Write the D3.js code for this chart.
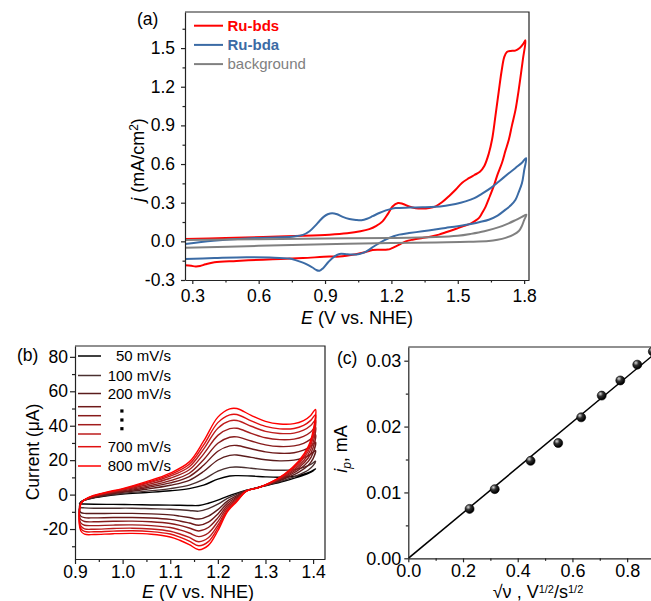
<!DOCTYPE html>
<html>
<head>
<meta charset="utf-8">
<script src="https://cdn.jsdelivr.net/npm/d3@7"></script>
<style>
  body { margin: 0; background: #fff; }
  text { font-family: "Liberation Sans", Arial, sans-serif; }
</style>
</head>
<body>
<svg id="fig" width="651" height="601"></svg>
<script>
// ---------- (a) CV of the two complexes and the blank, [E (V), j (mA/cm2)] ----------
const bdsForward = [[0.267,0.019],[0.45,0.026],[0.62,0.034],[0.8,0.043],[0.92,0.052],[1.0,0.063],[1.06,0.078],[1.1,0.095],[1.13,0.118],[1.16,0.155],[1.185,0.215],[1.205,0.27],[1.23,0.297],[1.25,0.292],[1.28,0.27],[1.31,0.257],[1.34,0.254],[1.37,0.258],[1.40,0.272],[1.43,0.305],[1.46,0.35],[1.49,0.40],[1.52,0.455],[1.55,0.49],[1.575,0.515],[1.6,0.54],[1.62,0.585],[1.64,0.68],[1.655,0.79],[1.67,0.97],[1.685,1.16],[1.698,1.32],[1.71,1.43],[1.722,1.47],[1.74,1.478],[1.76,1.48],[1.78,1.5],[1.795,1.53],[1.806,1.56]];
const bdsReverse = [[1.806,1.56],[1.795,1.42],[1.788,1.33],[1.775,1.17],[1.761,1.02],[1.745,0.9],[1.731,0.79],[1.715,0.7],[1.70,0.61],[1.68,0.52],[1.663,0.43],[1.645,0.35],[1.626,0.27],[1.61,0.22],[1.595,0.18],[1.575,0.155],[1.558,0.137],[1.52,0.115],[1.49,0.096],[1.45,0.072],[1.415,0.052],[1.38,0.038],[1.34,0.026],[1.3,0.014],[1.265,0.0],[1.24,-0.022],[1.22,-0.039],[1.2,-0.055],[1.183,-0.064],[1.15,-0.066],[1.115,-0.068],[1.08,-0.085],[1.04,-0.10],[0.965,-0.118],[0.92,-0.118],[0.8,-0.13],[0.7,-0.137],[0.62,-0.142],[0.5,-0.152],[0.4,-0.162],[0.36,-0.178],[0.335,-0.192],[0.315,-0.195],[0.295,-0.19],[0.267,-0.185]];
const bdaForward = [[0.267,-0.02],[0.394,0.005],[0.545,0.023],[0.695,0.031],[0.76,0.038],[0.80,0.05],[0.83,0.078],[0.855,0.12],[0.875,0.158],[0.895,0.192],[0.912,0.21],[0.932,0.219],[0.955,0.21],[0.98,0.19],[1.01,0.174],[1.04,0.166],[1.065,0.164],[1.09,0.175],[1.115,0.195],[1.145,0.22],[1.175,0.24],[1.2,0.252],[1.22,0.258],[1.28,0.262],[1.34,0.264],[1.40,0.268],[1.445,0.277],[1.49,0.29],[1.535,0.31],[1.575,0.335],[1.61,0.37],[1.65,0.415],[1.686,0.465],[1.725,0.52],[1.761,0.57],[1.79,0.61],[1.809,0.646]];
const bdaReverse = [[1.809,0.646],[1.8,0.55],[1.79,0.45],[1.775,0.38],[1.761,0.323],[1.74,0.28],[1.716,0.246],[1.68,0.2],[1.64,0.168],[1.6,0.15],[1.565,0.137],[1.5,0.118],[1.445,0.104],[1.39,0.09],[1.34,0.078],[1.28,0.064],[1.235,0.052],[1.21,0.04],[1.19,0.026],[1.165,0.006],[1.145,-0.013],[1.12,-0.04],[1.10,-0.064],[1.075,-0.088],[1.055,-0.098],[1.03,-0.103],[1.0,-0.1],[0.965,-0.098],[0.94,-0.12],[0.915,-0.16],[0.89,-0.21],[0.875,-0.228],[0.86,-0.222],[0.845,-0.205],[0.82,-0.18],[0.8,-0.165],[0.77,-0.148],[0.74,-0.134],[0.65,-0.126],[0.545,-0.124],[0.4,-0.13],[0.267,-0.137]];
const bgForward = [[0.267,0.01],[0.6,0.017],[0.9,0.022],[1.2,0.026],[1.4,0.033],[1.5,0.043],[1.56,0.058],[1.62,0.078],[1.686,0.11],[1.73,0.14],[1.761,0.165],[1.79,0.19],[1.81,0.207]];
const bgReverse = [[1.81,0.207],[1.8,0.165],[1.79,0.12],[1.776,0.08],[1.75,0.05],[1.716,0.027],[1.68,0.012],[1.64,0.002],[1.55,-0.004],[1.4,-0.008],[1.2,-0.013],[0.9,-0.022],[0.6,-0.035],[0.267,-0.05]];
const seriesNamesA = ["Ru-bds", "Ru-bda", "background"];
const seriesColorsA = ["#ff0000", "#3b6ba5", "#808080"];
const xTicksA = [0.3, 0.6, 0.9, 1.2, 1.5, 1.8];
const xMinorA = [0.45, 0.75, 1.05, 1.35, 1.65];
const yTicksA = [-0.3, 0.0, 0.3, 0.6, 0.9, 1.2, 1.5];
const yMinorA = [-0.15, 0.15, 0.45, 0.75, 1.05, 1.35, 1.65];

// ---------- (b) CVs at increasing scan rates, current in µA ----------
const scanRates = [50, 100, 200, 300, 400, 500, 600, 700, 800];
const cvColors = ["#000000", "#4a3030", "#5a1c1c", "#6e1a1a", "#871b1b", "#a11c1c", "#bd1d1d", "#e01010", "#ff0000"];
const cvForwardE = [0.909, 0.913, 0.93, 0.96, 1.0, 1.05, 1.1, 1.14, 1.17, 1.2, 1.225, 1.24, 1.27, 1.3, 1.33, 1.36, 1.38, 1.395, 1.405];
const cvReverseE = [1.405, 1.4, 1.39, 1.37, 1.34, 1.31, 1.285, 1.26, 1.24, 1.22, 1.2, 1.18, 1.16, 1.14, 1.12, 1.1, 1.06, 1.02, 0.98, 0.94, 0.92, 0.912, 0.909];
const cvForward = [
  [-5.5,-4,-2.5,-1,0.3,1.2,2.2,3.5,5.5,9,10.8,11,10.8,10.3,10.1,10.6,11.8,13.3,15],
  [-7,-4.1,-2.4,-0.7,0.7,2.0,3.5,5.5,8.8,13.6,15.8,16,15.3,14.4,14.1,14.5,15.8,17.5,19.4],
  [-9,-4.3,-2.2,-0.4,1.3,3.1,5.4,8.3,13.4,20.1,22.8,23,21.6,20.2,19.6,20,21.4,23.4,25.6],
  [-10.5,-4.4,-2.1,-0.1,1.7,4.0,6.8,10.5,17,25.2,28.3,28.5,26.6,24.8,24,24.3,25.8,28,30.5],
  [-12,-4.6,-1.9,0.2,2.1,4.8,8.1,12.4,20.2,29.8,33.3,33.5,31.1,28.9,27.9,28.3,29.8,32.2,34.9],
  [-13.5,-4.7,-1.8,0.4,2.6,5.6,9.5,14.4,23.5,34.4,38.3,38.5,35.6,33,31.9,32.2,33.8,36.4,39.3],
  [-15,-4.8,-1.7,0.6,2.9,6.4,10.7,16.2,26.4,38.6,42.8,43,39.7,36.7,35.5,35.7,37.4,40.1,43.3],
  [-16,-4.9,-1.6,0.8,3.2,6.9,11.6,17.6,28.7,41.8,46.3,46.5,42.8,39.6,38.2,38.4,40.2,43.1,46.4],
  [-17,-5,-1.5,1,3.5,7.5,12.5,19,31,45,49.8,50,46,42.5,41,41.2,43,46,49.5]
];
const cvReverse = [
  [15,13.8,12.3,10.3,7.9,5.8,4.2,2.5,0.9,-1,-3.2,-5,-6.3,-6.3,-6.2,-6.1,-6,-5.8,-5.7,-5.6,-5.5,-5.5,-5.5],
  [19.4,16.8,14.3,11.5,8.4,6,4.2,2.4,0.3,-2.2,-5.5,-8.1,-9.6,-9.2,-8.8,-8.5,-8.2,-7.9,-7.9,-7.9,-7.7,-7.5,-7],
  [25.6,20.9,17.1,13.1,9.2,6.2,4.1,2.3,-0.6,-3.8,-8.7,-12.5,-14.2,-13.3,-12.5,-11.8,-11.2,-10.9,-10.9,-11,-10.9,-10.3,-9],
  [30.5,24.2,19.3,14.4,9.7,6.3,4.1,2.3,-1.3,-5,-11.2,-16,-17.8,-16.5,-15.3,-14.4,-13.6,-13.3,-13.3,-13.5,-13.4,-12.5,-10.5],
  [34.9,27.2,21.4,15.6,10.3,6.5,4.1,2.2,-1.9,-6.2,-13.5,-19.1,-21.1,-19.4,-17.9,-16.8,-15.8,-15.4,-15.5,-15.8,-15.6,-14.4,-12],
  [39.3,30.2,23.4,16.8,10.8,6.6,4.1,2.1,-2.6,-7.3,-15.7,-22.3,-24.4,-22.3,-20.5,-19.1,-18,-17.6,-17.7,-18,-17.8,-16.4,-13.5],
  [43.3,32.9,25.2,17.9,11.3,6.8,4,2.1,-3.1,-8.4,-17.8,-25.1,-27.4,-24.9,-22.9,-21.3,-20,-19.5,-19.7,-20.1,-19.9,-18.2,-15],
  [46.4,34.9,26.6,18.7,11.6,6.9,4,2,-3.6,-9.2,-19.4,-27.3,-29.7,-27,-24.7,-22.9,-21.5,-21,-21.2,-21.6,-21.4,-19.6,-16],
  [49.5,37,28,19.5,12,7,4,2,-4,-10,-21,-29.5,-32,-29,-26.5,-24.6,-23,-22.5,-22.7,-23.2,-23,-21,-17]
];
const legendLabelsB = ["50 mV/s", "100 mV/s", "200 mV/s", "", "", "", "", "700 mV/s", "800 mV/s"];
const xTicksB = [0.9, 1.0, 1.1, 1.2, 1.3, 1.4];
const xMinorB = [0.95, 1.05, 1.15, 1.25, 1.35];
const yTicksB = [-20, 0, 20, 40, 60, 80];
const yMinorB = [-30, -10, 10, 30, 50, 70];

// ---------- (c) anodic peak current vs square root of scan rate ----------
const sqrtScanRate = [0.224, 0.316, 0.447, 0.548, 0.632, 0.707, 0.775, 0.837, 0.894];
const peakCurrent = [0.0075, 0.0105, 0.0148, 0.0175, 0.0214, 0.0247, 0.0270, 0.0294, 0.0314];
const xTicksC = [0.0, 0.2, 0.4, 0.6, 0.8];
const xMinorC = [0.1, 0.3, 0.5, 0.7];
const yTicksC = [0.00, 0.01, 0.02, 0.03];
const yMinorC = [0.005, 0.015, 0.025];

// ---------- drawing ----------
const svg = d3.select("#fig");
const FONT = '"Liberation Sans", Arial, sans-serif';
const TICK_FS = 17.5;
const AX = "#222";

function drawAxes(g, x, y, o) {
  const [x0, x1] = x.range();
  const [y0, y1] = y.range();
  const style = sel => {
    sel.selectAll("text").attr("font-size", o.fs || TICK_FS).attr("font-family", FONT).attr("fill", "#000");
    sel.selectAll("line,path").attr("stroke", AX).attr("stroke-width", 1.2);
  };
  g.append("g").attr("transform", `translate(0,${y0})`)
    .call(d3.axisBottom(x).tickValues(o.xMajor).tickFormat(o.xFmt).tickSize(o.major).tickPadding(o.xPad).tickSizeOuter(0))
    .call(style);
  g.append("g").attr("transform", `translate(0,${y0})`)
    .call(d3.axisBottom(x).tickValues(o.xMinor).tickFormat("").tickSize(o.minor).tickSizeOuter(0))
    .call(style).call(s => s.select(".domain").remove());
  g.append("g").attr("transform", `translate(${x0},0)`)
    .call(d3.axisLeft(y).tickValues(o.yMajor).tickFormat(o.yFmt).tickSize(o.major).tickPadding(o.yPad).tickSizeOuter(0))
    .call(style);
  g.append("g").attr("transform", `translate(${x0},0)`)
    .call(d3.axisLeft(y).tickValues(o.yMinor).tickFormat("").tickSize(o.minor).tickSizeOuter(0))
    .call(style).call(s => s.select(".domain").remove());
  g.append("path").attr("fill", "none").attr("stroke", AX).attr("stroke-width", 1.2)
    .attr("d", o.noRight ? `M${x0},${y1}H${x1}` : `M${x0},${y1}H${x1}V${y0}`);
}

function addText(g, x, y, parts, opts = {}) {
  const t = g.append("text").attr("x", x).attr("y", y)
    .attr("font-size", opts.fs || 18).attr("font-family", FONT)
    .attr("text-anchor", opts.anchor || "middle").attr("fill", opts.fill || "#000");
  if (opts.rotate) t.attr("transform", `rotate(-90,${x},${y})`);
  if (opts.weight) t.attr("font-weight", opts.weight);
  parts.forEach(p => {
    const s = t.append("tspan").text(p.t);
    if (p.i) s.attr("font-style", "italic");
    if (p.fs) s.attr("font-size", p.fs);
    if (p.dy) s.attr("dy", p.dy);
  });
  return t;
}

const fmt1 = d => d.toFixed(1);

// ===== Panel (a) =====
{
  const x = d3.scaleLinear([0.267, 1.822], [185, 529]);
  const y = d3.scaleLinear([-0.3, 1.78], [280, 12]);
  const g = svg.append("g");
  const line = d3.line().x(d => x(d[0])).y(d => y(d[1])).curve(d3.curveCatmullRom.alpha(0.5));
  const loops = [bdsForward.concat(bdsReverse.slice(1)), bdaForward.concat(bdaReverse.slice(1)), bgForward.concat(bgReverse.slice(1))];
  g.append("clipPath").attr("id", "clipA").append("rect").attr("x", 185).attr("y", 12).attr("width", 344).attr("height", 268);
  const plot = g.append("g").attr("clip-path", "url(#clipA)");
  loops.forEach((d, i) => plot.append("path").attr("d", line(d)).attr("fill", "none")
    .attr("stroke", seriesColorsA[i]).attr("stroke-width", 2).attr("stroke-linejoin", "round"));
  drawAxes(g, x, y, { xMajor: xTicksA, xMinor: xMinorA, yMajor: yTicksA, yMinor: yMinorA,
    xFmt: fmt1, yFmt: fmt1, major: 4, minor: 2.5, xPad: 6, yPad: 6 });
  // legend
  seriesNamesA.forEach((name, i) => {
    const ly = 25.7 + i * 19.2;
    g.append("line").attr("x1", 194).attr("x2", 223).attr("y1", ly).attr("y2", ly)
      .attr("stroke", seriesColorsA[i]).attr("stroke-width", 2);
    addText(g, 227.5, ly + 5.3, [{ t: name }], { fs: 15, anchor: "start", fill: seriesColorsA[i], weight: i < 2 ? "bold" : null });
  });
  addText(g, 137, 25, [{ t: "(a)" }], { fs: 17.5, anchor: "start" });
  addText(g, 357, 324, [{ t: "E", i: true }, { t: " (V vs. NHE)" }]);
  addText(g, 143.5, 160, [{ t: "j", i: true }, { t: " (mA/cm" }, { t: "2", fs: 12, dy: -6 }, { t: ")", dy: 6 }], { rotate: true });
}

// ===== Panel (b) =====
{
  const x = d3.scaleLinear([0.9, 1.425], [75, 325]);
  const y = d3.scaleLinear([-37.4, 86.3], [559, 346]);
  const g = svg.append("g");
  const line = d3.line().x(d => x(d[0])).y(d => y(d[1])).curve(d3.curveCatmullRom.alpha(0.5));
  scanRates.forEach((rate, i) => {
    const pts = cvForwardE.map((e, k) => [e, cvForward[i][k]])
      .concat(cvReverseE.slice(1).map((e, k) => [e, cvReverse[i][k + 1]]));
    g.append("path").attr("d", line(pts)).attr("fill", "none")
      .attr("stroke", cvColors[i]).attr("stroke-width", 1.4).attr("stroke-linejoin", "round");
  });
  drawAxes(g, x, y, { xMajor: xTicksB, xMinor: xMinorB, yMajor: yTicksB, yMinor: yMinorB,
    xFmt: fmt1, yFmt: d => String(d), major: 5, minor: 3, xPad: 1.5, yPad: 2 });
  // legend
  const rowsY = [356, 375.5, 393.5, 406.7, 415.7, 424.7, 434, 446.7, 466];
  scanRates.forEach((rate, i) => {
    g.append("line").attr("x1", 78).attr("x2", 101).attr("y1", rowsY[i]).attr("y2", rowsY[i])
      .attr("stroke", cvColors[i]).attr("stroke-width", 1.5);
    if (legendLabelsB[i]) addText(g, 171, rowsY[i] + 5.4, [{ t: legendLabelsB[i] }], { fs: 15, anchor: "end" });
  });
  [411, 420, 428.7].forEach(cy => g.append("rect").attr("x", 120.3).attr("y", cy - 1.6)
    .attr("width", 3.2).attr("height", 3.2).attr("fill", "#000"));
  addText(g, 17, 361, [{ t: "(b)" }], { fs: 17.5, anchor: "start" });
  addText(g, 198, 597.5, [{ t: "E", i: true }, { t: " (V vs. NHE)" }]);
  addText(g, 38.5, 452, [{ t: "Current (μA)" }], { rotate: true, fs: 17.5 });
}

// ===== Panel (c) =====
{
  const x = d3.scaleLinear([0, 0.9], [408.3, 654.5]);
  const y = d3.scaleLinear([0, 0.03208], [558.3, 347]);
  const g = svg.append("g");
  const defs = svg.append("defs");
  const grad = defs.append("radialGradient").attr("id", "ball").attr("cx", "35%").attr("cy", "30%").attr("r", "65%");
  grad.append("stop").attr("offset", "0%").attr("stop-color", "#d8d8d8");
  grad.append("stop").attr("offset", "45%").attr("stop-color", "#303030");
  grad.append("stop").attr("offset", "100%").attr("stop-color", "#000");
  g.append("clipPath").attr("id", "clipC").append("rect").attr("x", 408.3).attr("y", 347).attr("width", 260).attr("height", 211.3);
  // least-squares line through the origin
  const slope = d3.sum(sqrtScanRate, (v, i) => v * peakCurrent[i]) / d3.sum(sqrtScanRate, v => v * v);
  const xEnd = x.domain()[1];
  g.append("path").attr("clip-path", "url(#clipC)")
    .attr("d", d3.line().x(d => x(d[0])).y(d => y(d[1]))([[0, 0], [xEnd, slope * xEnd]]))
    .attr("fill", "none").attr("stroke", "#000").attr("stroke-width", 1.5);
  g.selectAll("circle.pt").data(sqrtScanRate).join("circle").attr("class", "pt")
    .attr("cx", d => x(d)).attr("cy", (d, i) => y(peakCurrent[i])).attr("r", 4.5)
    .attr("fill", "url(#ball)").attr("stroke", "#000").attr("stroke-width", 0.6);
  drawAxes(g, x, y, { xMajor: xTicksC, xMinor: xMinorC, yMajor: yTicksC, yMinor: yMinorC,
    xFmt: fmt1, yFmt: d => d.toFixed(2), major: 4, minor: 2.5, xPad: 2, yPad: 3, noRight: true, fs: 18 });
  addText(g, 337, 364, [{ t: "(c)" }], { fs: 17.5, anchor: "start" });
  addText(g, 538, 598, [{ t: "√ν" }, { t: " , V" }, { t: "1/2", fs: 11, dy: -5 }, { t: "/s", dy: 5 }, { t: "1/2", fs: 11, dy: -5 }]);
  addText(g, 347, 449, [{ t: "i", i: true }, { t: "p", i: true, fs: 12, dy: 4 }, { t: ", mA", dy: -4 }], { rotate: true });
}
</script>
</body>
</html>
